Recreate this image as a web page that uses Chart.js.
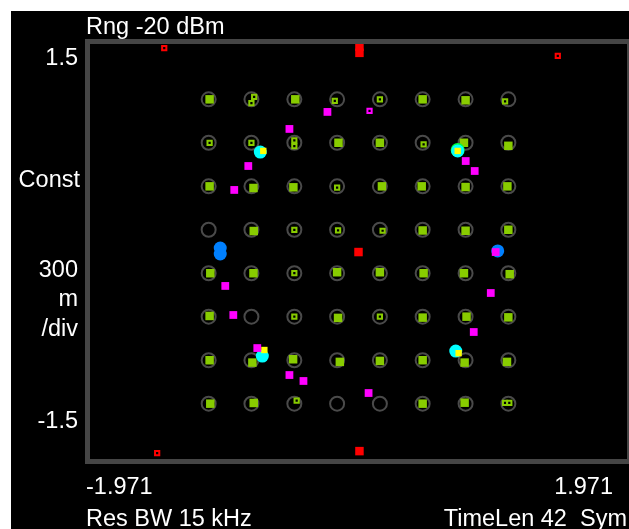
<!DOCTYPE html>
<html>
<head>
<meta charset="utf-8">
<script src="https://cdn.jsdelivr.net/npm/chart.js@4.4.1/dist/chart.umd.min.js"></script>
<style>
  html, body { margin: 0; padding: 0; background: #fff; overflow: hidden; }
  canvas { display: block; }
</style>
</head>
<body>
<canvas id="const" width="629" height="529"></canvas>
<script>
// ideal 64QAM levels (I and Q)
const levels = [-1.1, -0.786, -0.471, -0.157, 0.157, 0.471, 0.786, 1.1];

// measured symbols, filled
const greenFilled = [
  [-1.093, 1.1], [-0.464, 1.1], [0.471, 1.1], [0.786, 1.093],
  [-0.147, 0.786], [0.157, 0.786], [0.774, 0.786], [1.1, 0.764],
  [-1.093, 0.471], [-0.771, 0.459], [-0.478, 0.464], [0.172, 0.471], [0.464, 0.471], [0.786, 0.466], [1.093, 0.471],
  [-0.769, 0.148], [0.471, 0.152], [0.786, 0.15], [1.1, 0.157],
  [-1.088, -0.157], [-0.771, -0.157], [-0.157, -0.15], [0.157, -0.15], [0.478, -0.157], [0.774, -0.157], [1.11, -0.164],
  [-1.093, -0.466], [-0.15, -0.48], [0.471, -0.478], [0.793, -0.471], [1.1, -0.476],
  [-1.093, -0.786], [-0.779, -0.803], [-0.48, -0.779], [-0.137, -0.798], [0.157, -0.791], [0.471, -0.786], [0.779, -0.803], [1.09, -0.798],
  [-1.088, -1.1], [-0.769, -1.095], [0.471, -1.1], [0.779, -1.093]
];
// measured symbols, hollow marker
const greenHollow = [
  [-0.766, 1.117], [-0.786, 1.073], [-0.174, 1.088], [0.157, 1.1], [1.076, 1.086],
  [-1.093, 0.786], [-0.786, 0.786], [-0.471, 0.803], [-0.471, 0.762], [0.478, 0.774],
  [-0.157, 0.462],
  [-0.471, 0.157], [-0.15, 0.152], [0.177, 0.15],
  [-0.471, -0.157],
  [-0.471, -0.471], [0.157, -0.471],
  [-0.454, -1.078], [1.076, -1.095], [1.107, -1.095]
];
const magentaPts = [
  [-0.228, 1.009], [-0.507, 0.886], [-0.809, 0.618], [-0.912, 0.445], [0.787, 0.654], [0.853, 0.582],
  [-0.978, -0.249], [0.971, -0.3], [-0.919, -0.459], [0.846, -0.582], [-0.507, -0.893], [-0.404, -0.936],
  [0.074, -1.023], [-0.743, -0.698], [1.007, -0.004]
];
const magentaHollow = [[0.081, 1.016]];
const redPts = [[0.007, 1.48], [0.007, 1.436], [0, -0.004], [0.007, -1.443]];
const redHollow = [[-1.426, 1.471], [1.463, 1.414], [-1.478, -1.457]];
const bluePts = [[-1.015, 0.025], [-1.015, -0.018], [1.022, 0.004]];
const limePts = [[0.728, 0.734]];
const cyanPts = [[-0.721, 0.719], [0.728, 0.727], [-0.706, -0.756], [0.714, -0.72]];
const yellowPts = [[-0.699, 0.727], [-0.691, -0.712], [0.735, -0.735], [0.728, 0.727]];

const topLabel = 'Rng -20 dBm';
const sideLabels = ['Const', '300', 'm', '/div'];
const yTicks = ['1.5', '-1.5'];
const xTicks = ['-1.971', '1.971'];
const footLeft = 'Res BW 15 kHz';
const footRight = 'TimeLen 42  Sym';

const xy = a => a.map(p => ({ x: p[0], y: p[1] }));
const rings = [];
levels.forEach(q => levels.forEach(i => rings.push({ x: i, y: q })));

const GREEN = 'rgb(136,204,0)';

const frame = {
  id: 'frame',
  beforeDraw(chart) {
    const c = chart.ctx;
    c.save();
    c.fillStyle = '#fff';
    c.fillRect(0, 0, 629, 529);
    c.fillStyle = '#000';
    c.fillRect(11, 11, 618, 518);
    c.restore();
  },
  afterDatasetsDraw(chart) {
    const c = chart.ctx, a = chart.chartArea;
    c.save();
    c.fillStyle = '#454545';
    c.fillRect(a.left - 5, a.top - 5, 629 - a.left + 5, 5);
    c.fillRect(a.left - 5, a.bottom, 629 - a.left + 5, 5);
    c.fillRect(a.left - 5, a.top - 5, 5, a.bottom - a.top + 10);
    c.fillRect(a.right, a.top - 5, 3, a.bottom - a.top + 10);
    c.restore();
  },
  afterDraw(chart) {
    const c = chart.ctx;
    c.save();
    c.fillStyle = '#fff';
    c.font = '23.5px "Liberation Sans", Arial, sans-serif';
    c.textBaseline = 'alphabetic';
    c.textAlign = 'left';
    c.fillText(topLabel, 86, 34);
    c.fillText(xTicks[0], 86, 494);
    c.fillText(footLeft, 86, 526);
    c.textAlign = 'right';
    c.fillText(xTicks[1], 613, 494);
    c.fillText(footRight, 627, 526);
    c.fillText(yTicks[0], 78, 65);
    c.fillText(yTicks[1], 78, 428);
    c.fillText(sideLabels[0], 80, 187);
    c.fillText(sideLabels[1], 78, 277);
    c.fillText(sideLabels[2], 78, 306);
    c.fillText(sideLabels[3], 78, 336);
    c.restore();
  }
};

new Chart(document.getElementById('const'), {
  type: 'scatter',
  data: {
    datasets: [
      { data: rings, order: 10, pointStyle: 'circle', pointRadius: 7, pointBorderWidth: 2,
        pointBorderColor: '#4a4a4a', pointBackgroundColor: 'rgba(0,0,0,0)' },
      { data: xy(greenFilled), order: 6, pointStyle: 'rect', pointRadius: 6, pointBorderWidth: 0,
        pointBackgroundColor: GREEN },
      { data: xy(greenHollow), order: 5, pointStyle: 'rect', pointRadius: 3, pointBorderWidth: 2,
        pointBorderColor: GREEN, pointBackgroundColor: '#000' },
      { data: xy(bluePts), order: 4, pointStyle: 'circle', pointRadius: 6.5, pointBorderWidth: 0,
        pointBackgroundColor: 'rgb(0,128,255)' },
      { data: xy(limePts), order: 4, pointStyle: 'circle', pointRadius: 7, pointBorderWidth: 0,
        pointBackgroundColor: 'rgb(0,255,64)' },
      { data: xy(cyanPts), order: 3, pointStyle: 'circle', pointRadius: 6.5, pointBorderWidth: 0,
        pointBackgroundColor: 'rgb(0,255,255)' },
      { data: xy(yellowPts), order: 2, pointStyle: 'rect', pointRadius: 4.5, pointBorderWidth: 0,
        pointBackgroundColor: 'rgb(255,255,0)' },
      { data: xy(magentaPts), order: 1, pointStyle: 'rect', pointRadius: 5.5, pointBorderWidth: 0,
        pointBackgroundColor: 'rgb(255,0,255)' },
      { data: xy(magentaHollow), order: 1, pointStyle: 'rect', pointRadius: 3, pointBorderWidth: 2,
        pointBorderColor: 'rgb(255,0,255)', pointBackgroundColor: '#000' },
      { data: xy(redPts), order: 1, pointStyle: 'rect', pointRadius: 6, pointBorderWidth: 0,
        pointBackgroundColor: 'rgb(255,0,0)' },
      { data: xy(redHollow), order: 1, pointStyle: 'rect', pointRadius: 3, pointBorderWidth: 2,
        pointBorderColor: 'rgb(255,0,0)', pointBackgroundColor: '#000' }
    ]
  },
  options: {
    responsive: false,
    devicePixelRatio: 1,
    animation: false,
    clip: false,
    layout: { autoPadding: false, padding: { left: 90, top: 44, right: 2, bottom: 70 } },
    plugins: { legend: { display: false }, tooltip: { enabled: false } },
    scales: {
      x: { type: 'linear', min: -1.971, max: 1.971, display: false },
      y: { type: 'linear', min: -1.5, max: 1.5, display: false }
    }
  },
  plugins: [frame]
});
</script>
</body>
</html>
